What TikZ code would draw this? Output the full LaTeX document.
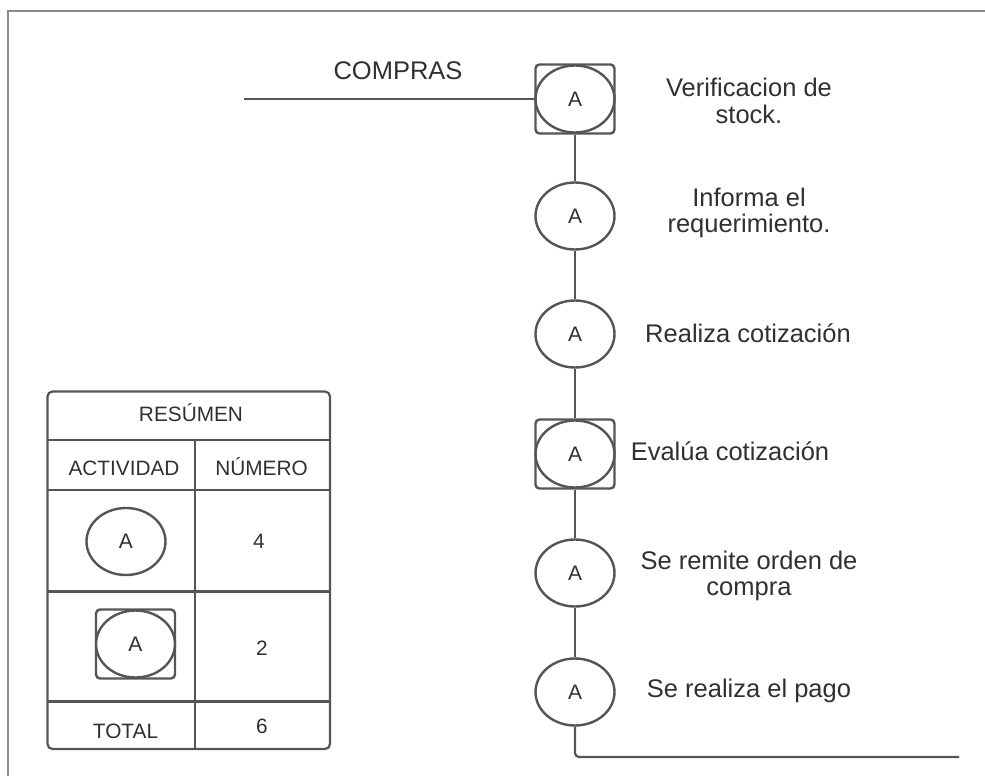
\documentclass[tikz,border=0pt]{standalone}
\usepackage{fontspec}
\setmainfont{Liberation Sans}
\usetikzlibrary{shapes.geometric}
\definecolor{strokec}{HTML}{555555}
\definecolor{txtc}{HTML}{303030}
\definecolor{framec}{HTML}{8A8A8A}
\begin{document}
\begin{tikzpicture}[x=1pt,y=-1pt,
  act/.style={ellipse,draw=strokec,line width=2.4pt,minimum width=79pt,minimum height=67pt,inner sep=0pt,font=\fontsize{21}{21}\selectfont,text=txtc},
  sq/.style={rectangle,draw=strokec,line width=2.4pt,rounded corners=4pt,minimum width=79pt,minimum height=69pt,inner sep=0pt},
  conn/.style={draw=strokec,line width=2.2pt},
  lbl/.style={font=\fontsize{25.5}{26.5}\selectfont,text=txtc,align=center,inner sep=0pt},
  tbl/.style={font=\fontsize{20.8}{22}\selectfont,text=txtc,inner sep=0pt,anchor=base},
  tline/.style={draw=strokec,line width=2.2pt},
]
\useasboundingbox (0,0) rectangle (985,776);
% frame
\draw[framec,line width=2pt] (8,776) -- (8,11.5) -- (985,11.5);

% main column
\node[sq]  (s1) at (575,99) {};
\node[act] (c1) at (575,99) {A};
\node[act] (c2) at (575,216) {A};
\node[act] (c3) at (575,334) {A};
\node[sq]  (s4) at (575,454) {};
\node[act] (c4) at (575,454) {A};
\node[act] (c5) at (575,573) {A};
\node[act] (c6) at (575,692) {A};

\coordinate (start) at (244,99);
\coordinate (finish) at (959,757);
\path[conn] (start) -- (s1.west);
\path[conn] (s1.south) -- (c2.north);
\path[conn] (c2.south) -- (c3.north);
\path[conn] (c3.south) -- (s4.north);
\path[conn] (s4.south) -- (c5.north);
\path[conn] (c5.south) -- (c6.north);
\path[conn,rounded corners=4pt] (c6.south) |- (finish);

\node[lbl,anchor=base] (compras) at (398,80) {COMPRAS};

% labels
\node[lbl] (l1) at (749,101) {Verificacion de\\stock.};
\node[lbl] (l2) at (749,213) {Informa el\\requerimiento.};
\node[lbl,anchor=base] (l3) at (748,342) {Realiza cotización};
\node[lbl,anchor=base] (l4) at (730,460) {Evalúa cotización};
\node[lbl] (l5) at (749,576) {Se remite orden de\\compra};
\node[lbl,anchor=base] (l6) at (749,697) {Se realiza el pago};

% summary table
\draw[tline,rounded corners=5pt] (47.5,391.5) rectangle (330,749);
\draw[tline] (47.5,440) -- (330,440);
\draw[tline] (47.5,490) -- (330,490);
\draw[tline] (47.5,591.5) -- (330,591.5);
\draw[tline] (47.5,701.5) -- (330,701.5);
\draw[tline] (195,440) -- (195,749);

\node[tbl] (tres) at (191,421.5) {RESÚMEN};
\node[tbl] (tact) at (124,475) {ACTIVIDAD};
\node[tbl] (tnum) at (261.5,475) {NÚMERO};
\node[act] (ta1) at (126,541.5) {A};
\node[tbl] (tn4) at (259,548) {4};
\node[sq]  (tsq) at (135.5,644) {};
\node[act] (ta2) at (135.5,644) {A};
\node[tbl] (tn2) at (262,655) {2};
\node[tbl] (ttot) at (125.5,738) {TOTAL};
\node[tbl] (tn6) at (262,733) {6};
\end{tikzpicture}
\end{document}
